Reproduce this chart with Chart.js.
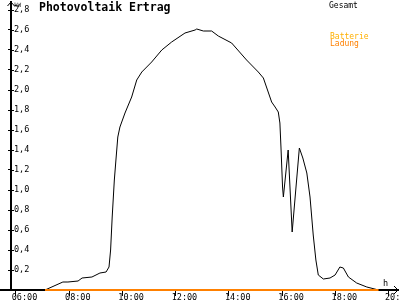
<!DOCTYPE html>
<html>
<head>
<meta charset="utf-8">
<script src="https://cdn.jsdelivr.net/npm/chart.js@4"></script>
<style>
  html, body { margin: 0; padding: 0; background: #fff; }
</style>
</head>
<body>
<canvas id="pv" width="400" height="300"></canvas>
<script>
// Data -----------------------------------------------------------------------
// time of day in decimal hours, power in kW
const hours = [
  7.10, 7.77, 7.96, 8.34, 8.49, 8.86, 9.16, 9.39, 9.50, 9.56, 9.62, 9.70,
  9.76, 9.83, 9.91, 10.10, 10.35, 10.54, 10.73, 11.10, 11.48, 11.85, 12.35,
  12.73, 12.79, 13.04, 13.35, 13.60, 14.10, 14.66, 15.10, 15.29, 15.60,
  15.73, 15.85, 15.91, 15.95, 16.01, 16.04, 16.22, 16.37, 16.64, 16.77,
  16.92, 17.04, 17.16, 17.26, 17.35, 17.54, 17.79, 17.98, 18.16, 18.29,
  18.48, 18.79, 19.17, 19.61,
];
const gesamt = [
  0.00, 0.08, 0.08, 0.09, 0.12, 0.13, 0.17, 0.18, 0.23, 0.40, 0.73, 1.10,
  1.30, 1.53, 1.63, 1.77, 1.93, 2.10, 2.18, 2.28, 2.40, 2.48, 2.57,
  2.60, 2.61, 2.59, 2.59, 2.54, 2.47, 2.30, 2.18, 2.12, 1.88,
  1.83, 1.78, 1.67, 1.43, 1.03, 0.93, 1.40, 0.58, 1.42, 1.32,
  1.17, 0.93, 0.55, 0.30, 0.15, 0.11, 0.12, 0.15, 0.23, 0.22,
  0.13, 0.07, 0.03, 0.00,
];
const ladungHours = [7.10, 19.61];
const ladung = [0, 0];

const xTicks = [6, 8, 10, 12, 14, 16, 18, 20];
const yTicks = [0.2, 0.4, 0.6, 0.8, 1.0, 1.2, 1.4, 1.6, 1.8, 2.0, 2.2, 2.4, 2.6, 2.8];
//---------------------------------------------------------------------------------

const mono = "'DejaVu Sans Mono', monospace";

function toPoints(xs, ys) {
  return xs.map((h, i) => ({ x: h, y: ys[i] }));
}

function hhmm(v) {
  return String(v).padStart(2, "0") + ":00";
}

function noPadding(scale) {
  scale.paddingLeft = 0;
  scale.paddingRight = 0;
  scale.paddingTop = 0;
  scale.paddingBottom = 0;
}

// axis arrows, left stub of the time axis and the loose texts
const extras = {
  id: "extras",
  afterDraw(chart) {
    const { ctx } = chart;
    const x = chart.scales.x;
    const y = chart.scales.y;
    const zero = y.getPixelForValue(0);
    ctx.save();
    ctx.strokeStyle = "#000";
    ctx.lineWidth = 2;
    ctx.beginPath();
    ctx.moveTo(0, zero);
    ctx.lineTo(x.left, zero);
    ctx.stroke();

    ctx.lineWidth = 1;
    ctx.beginPath();
    // right halves of the y ticks
    yTicks.forEach((v) => {
      const py = Math.round(y.getPixelForValue(v)) + 0.5;
      ctx.moveTo(x.left, py);
      ctx.lineTo(x.left + 3, py);
    });
    // arrow heads
    ctx.moveTo(x.left - 3.5, y.top + 4);
    ctx.lineTo(x.left, y.top);
    ctx.lineTo(x.left + 3.5, y.top + 4);
    ctx.moveTo(x.right - 4, zero - 4);
    ctx.lineTo(x.right, zero);
    ctx.lineTo(x.right - 4, zero + 4);
    ctx.stroke();

    ctx.textAlign = "left";
    ctx.textBaseline = "alphabetic";
    ctx.fillStyle = "#000";
    ctx.font = "bold 11.5px " + mono;
    ctx.fillText("Photovoltaik Ertrag", 39, 11);
    ctx.font = "8px " + mono;
    ctx.fillText("Gesamt", 329, 7.5);
    ctx.fillStyle = "#ffb000";
    ctx.fillText("Batterie", 330, 39.3);
    ctx.fillStyle = "#ff8000";
    ctx.fillText("Ladung", 330, 45.5);
    ctx.fillStyle = "#000";
    ctx.font = "8.5px " + mono;
    ctx.fillText("h", 383, 286);
    ctx.font = "6px " + mono;
    ctx.fillText("kW", 14, 6.5);
    ctx.restore();
  },
};

new Chart(document.getElementById("pv"), {
  type: "line",
  data: {
    datasets: [
      {
        label: "Ladung",
        data: toPoints(ladungHours, ladung),
        borderColor: "#ff8000",
        borderWidth: 2,
        pointRadius: 0,
        fill: false,
        clip: false,
      },
      {
        label: "Gesamt",
        data: toPoints(hours, gesamt),
        borderColor: "#000",
        borderWidth: 1,
        pointRadius: 0,
        fill: false,
        tension: 0,
      },
    ],
  },
  options: {
    responsive: false,
    animation: false,
    devicePixelRatio: 1,
    layout: { padding: { top: 2, right: 2, left: 0, bottom: 0 } },
    plugins: {
      legend: { display: false },
      tooltip: { enabled: false },
    },
    scales: {
      x: {
        type: "linear",
        min: 5.824,
        max: 20.34,
        afterBuildTicks: (scale) => {
          scale.ticks = xTicks.map((v) => ({ value: v }));
        },
        afterFit: (scale) => {
          scale.height = 10;
          noPadding(scale);
        },
        grid: {
          drawOnChartArea: false,
          drawTicks: true,
          tickLength: 6,
          color: "#000",
        },
        border: { display: true, color: "#000", width: 2, z: -1 },
        ticks: {
          callback: (v) => hhmm(v),
          font: { family: mono, size: 8.5 },
          color: "#000",
          padding: -3,
          align: "start",
          labelOffset: -4,
          maxRotation: 0,
          autoSkip: false,
        },
      },
      y: {
        min: 0,
        max: 2.88,
        afterBuildTicks: (scale) => {
          scale.ticks = yTicks.map((v) => ({ value: v }));
        },
        afterFit: (scale) => {
          scale.width = 11;
          noPadding(scale);
        },
        grid: {
          drawOnChartArea: false,
          drawTicks: true,
          tickLength: 3,
          color: "#000",
        },
        border: { display: true, color: "#000", width: 2 },
        ticks: {
          mirror: true,
          padding: 3,
          callback: (v) => v.toFixed(1).replace(".", ","),
          font: { family: mono, size: 8.5 },
          color: "#000",
        },
      },
    },
  },
  plugins: [extras],
});
</script>
</body>
</html>
